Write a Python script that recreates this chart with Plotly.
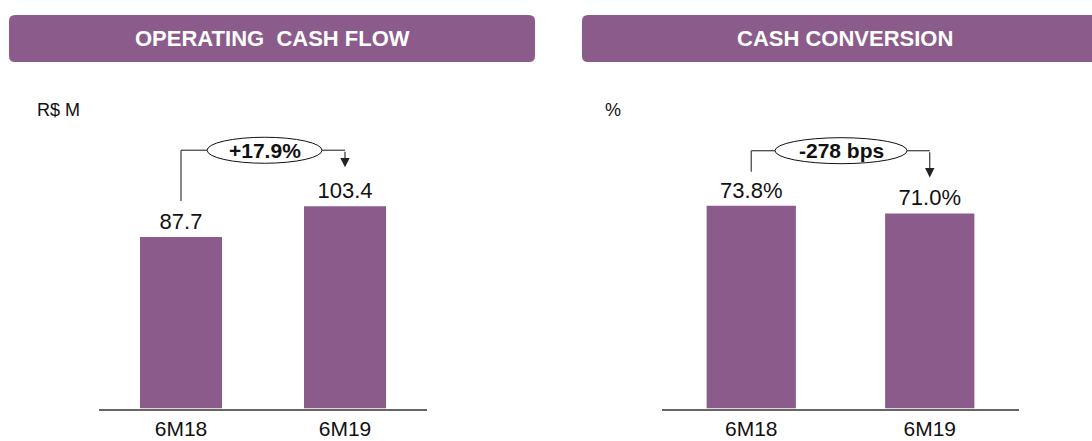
import plotly.graph_objects as go

# ---- data ----
categories = ["6M18", "6M19"]
ocf_values = [87.7, 103.4]
ocf_labels = ["87.7", "103.4"]
conv_values = [73.8, 71.0]
conv_labels = ["73.8%", "71.0%"]
ocf_change = "+17.9%"
conv_change = "-278 bps"
titles = ["OPERATING  CASH FLOW", "CASH CONVERSION"]
units = ["R$ M", "%"]

W, H = 1092, 441
PURPLE = "#8B5B8B"
FONT = "Liberation Sans, Arial, sans-serif"
LINE = "#4a4a4a"

base_px = 408.5
y_dom0 = (H - base_px) / H
left_dom = [99 / W, 427 / W]
right_dom = [662 / W, 1019 / W]
ocf_scale = 1.956   # px per unit
conv_scale = 2.748
ocf_max = base_px / ocf_scale
conv_max = base_px / conv_scale

fig = go.Figure()
fig.add_trace(go.Bar(x=categories, y=ocf_values, text=ocf_labels, textposition="outside",
                     marker=dict(color=PURPLE, line=dict(width=0)), width=0.5,
                     textfont=dict(size=22, color="#111111", family=FONT),
                     cliponaxis=False, xaxis="x", yaxis="y", hoverinfo="skip"))
fig.add_trace(go.Bar(x=categories, y=conv_values, text=conv_labels, textposition="outside",
                     marker=dict(color=PURPLE, line=dict(width=0)), width=0.5,
                     textfont=dict(size=22, color="#111111", family=FONT),
                     cliponaxis=False, xaxis="x2", yaxis="y2", hoverinfo="skip"))

axis_common = dict(showgrid=False, zeroline=False, fixedrange=True)
fig.update_layout(
    width=W, height=H, margin=dict(l=0, r=0, t=0, b=0),
    paper_bgcolor="white", plot_bgcolor="white", showlegend=False,
    font=dict(family=FONT, color="#111111"),
    xaxis=dict(domain=left_dom, range=[-0.5, 1.5], showline=True, linecolor="#666666", linewidth=2,
               ticks="", tickfont=dict(size=21, family=FONT, color="#111111"), **axis_common),
    yaxis=dict(domain=[y_dom0, 1], range=[0, ocf_max], visible=False, **axis_common),
    xaxis2=dict(domain=right_dom, range=[-0.5, 1.5], showline=True, linecolor="#666666", linewidth=2,
                ticks="", tickfont=dict(size=21, family=FONT, color="#111111"), anchor="y2", **axis_common),
    yaxis2=dict(domain=[y_dom0, 1], range=[0, conv_max], visible=False, anchor="x2", **axis_common),
)

shapes = []
annotations = []


def rounded_rect(x0, x1, y0, y1, r=6):
    # pixel coords (y downward) -> paper path
    def px(x):
        return x / W

    def py(y):
        return 1 - y / H
    p = (f"M {px(x0 + r)} {py(y0)} L {px(x1 - r)} {py(y0)} Q {px(x1)} {py(y0)} {px(x1)} {py(y0 + r)} "
         f"L {px(x1)} {py(y1 - r)} Q {px(x1)} {py(y1)} {px(x1 - r)} {py(y1)} "
         f"L {px(x0 + r)} {py(y1)} Q {px(x0)} {py(y1)} {px(x0)} {py(y1 - r)} "
         f"L {px(x0)} {py(y0 + r)} Q {px(x0)} {py(y0)} {px(x0 + r)} {py(y0)} Z")
    return dict(type="path", path=p, xref="paper", yref="paper", fillcolor=PURPLE,
                line=dict(width=0), layer="below")


shapes.append(rounded_rect(9, 535, 15, 62))
shapes.append(rounded_rect(582, 1100, 15, 62))
for cx, t in [(272, "<b>" + titles[0].replace("  ", "&nbsp; ") + "</b>"),
              (845, "<b>" + titles[1] + "</b>")]:
    annotations.append(dict(x=cx / W, y=1 - 39 / H, xref="paper", yref="paper", text=t,
                            showarrow=False, font=dict(size=22, color="white", family=FONT),
                            xanchor="center", yanchor="middle"))

annotations.append(dict(x=35 / W, y=1 - 110 / H, xref="paper", yref="paper", text=units[0],
                        showarrow=False, font=dict(size=18, family=FONT, color="#111111"),
                        xanchor="left", yanchor="middle"))
annotations.append(dict(x=603 / W, y=1 - 110 / H, xref="paper", yref="paper", text=units[1],
                        showarrow=False, font=dict(size=18, family=FONT, color="#111111"),
                        xanchor="left", yanchor="middle"))


def bracket(values, scale, xr, yr, bracket_px, left_gap_px, arrow_gap_px, ell_x, label):
    yb = max(values) + bracket_px / scale
    yl = values[0] + left_gap_px / scale
    ya = values[1] + arrow_gap_px / scale
    e_half = 13 / scale
    shapes.append(dict(type="line", xref=xr, yref=yr, x0=0, x1=0, y0=yl, y1=yb,
                       line=dict(color=LINE, width=1.3)))
    shapes.append(dict(type="line", xref=xr, yref=yr, x0=0, x1=ell_x[0], y0=yb, y1=yb,
                       line=dict(color=LINE, width=1.3)))
    shapes.append(dict(type="line", xref=xr, yref=yr, x0=ell_x[1], x1=1, y0=yb, y1=yb,
                       line=dict(color=LINE, width=1.3)))
    shapes.append(dict(type="circle", xref=xr, yref=yr, x0=ell_x[0], x1=ell_x[1],
                       y0=yb - e_half, y1=yb + e_half, fillcolor="white",
                       line=dict(color="#111111", width=1)))
    annotations.append(dict(x=1, y=ya, ax=1, ay=yb, xref=xr, yref=yr, axref=xr, ayref=yr,
                            text="", showarrow=True, arrowhead=2, arrowsize=1.7, arrowwidth=1.1,
                            arrowcolor="#222222"))
    annotations.append(dict(x=(ell_x[0] + ell_x[1]) / 2, y=yb, xref=xr, yref=yr,
                            text="<b>" + label + "</b>", showarrow=False,
                            font=dict(size=21, family=FONT, color="#111111"),
                            xanchor="center", yanchor="middle"))


bracket(ocf_values, ocf_scale, "x", "y", 56, 36, 39, (0.159, 0.86), ocf_change)
bracket(conv_values, conv_scale, "x2", "y2", 55, 34, 36, (0.133, 0.873), conv_change)

fig.update_layout(shapes=shapes, annotations=annotations)
fig.write_html("out.html", config={"displayModeBar": False, "staticPlot": True},
               post_script="document.body.style.margin='0';document.body.style.overflow='hidden';")
